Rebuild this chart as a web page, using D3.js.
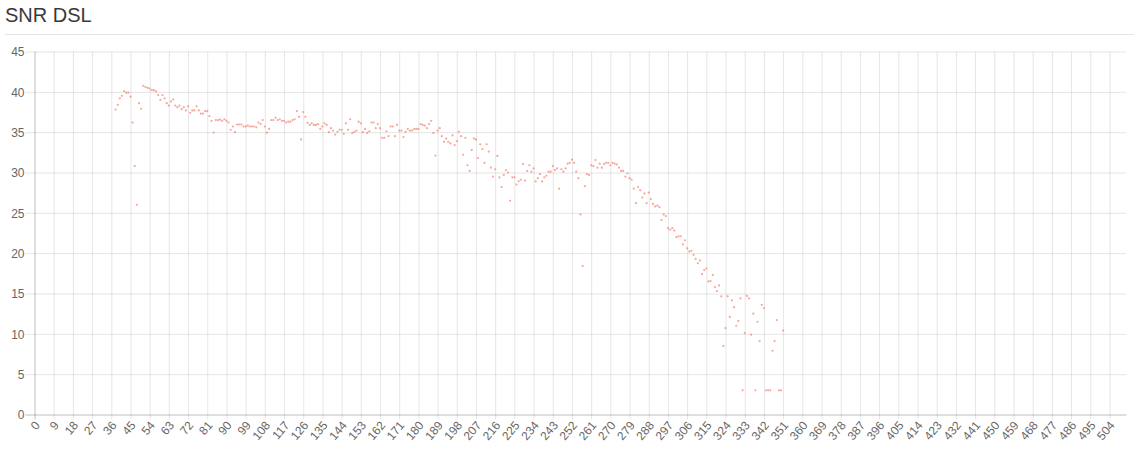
<!DOCTYPE html>
<html>
<head>
<meta charset="utf-8">
<script src="https://cdn.jsdelivr.net/npm/d3@7/dist/d3.min.js"></script>
<style>
  html, body { margin: 0; padding: 0; background: #fff; }
  svg { display: block; }
  text { font-family: "Liberation Sans", Arial, Helvetica, sans-serif; }
</style>
</head>
<body>
<svg id="chart" width="1136" height="454"></svg>
<script>
const chartTitle = "SNR DSL";
const sampleStart = 38;           // first sample index carrying a value
const xMax = 512;                 // last category on the x axis
const xTickLabels = [0,9,18,27,36,45,54,63,72,81,90,99,108,117,126,135,144,153,162,171,180,189,198,207,216,225,234,243,252,261,270,279,288,297,306,315,324,333,342,351,360,369,378,387,396,405,414,423,432,441,450,459,468,477,486,495,504];
const yTickLabels = [0,5,10,15,20,25,30,35,40,45];
const snrValues = [
  37.8, 38.4, 39.2, 39.5, 40.1, 39.9, 39.9, 39.4, 36.2, 30.8,
  26.0, 38.6, 37.9, 40.75, 40.6, 40.5, 40.4, 40.2, 40.2, 40.05,
  39.6, 39.0, 39.6, 39.2, 38.6, 38.3, 38.8, 39.05, 38.3, 38.1,
  38.3, 37.85, 38.1, 37.7, 38.2, 37.4, 37.7, 37.7, 38.2, 37.7,
  37.3, 37.3, 37.6, 37.6, 37.0, 36.4, 34.95, 36.5, 36.5, 36.55,
  36.4, 36.6, 36.4, 36.2, 35.3, 35.7, 35.0, 35.95, 35.95, 35.95,
  35.7, 35.7, 35.8, 35.7, 35.7, 35.7, 35.6, 36.2, 36.0, 36.5,
  35.7, 34.95, 35.4, 36.5, 36.5, 36.8, 36.5, 36.6, 36.4, 36.4,
  36.2, 36.3, 36.3, 36.5, 36.6, 37.6, 36.9, 34.1, 37.5, 36.9,
  36.16, 35.9, 36.1, 35.9, 35.9, 36.0, 35.4, 35.7, 36.1, 35.9,
  35.0, 35.5, 35.2, 34.7, 35.04, 35.3, 35.3, 34.8, 36.1, 35.3,
  36.6, 34.9, 35.04, 35.2, 36.3, 36.1, 35.0, 35.4, 34.9, 35.1,
  36.2, 36.2, 35.5, 36.0, 35.5, 34.3, 34.3, 35.1, 34.5, 35.7,
  35.7, 34.5, 35.9, 35.2, 35.2, 34.4, 35.04, 35.4, 35.2, 35.2,
  35.4, 35.4, 35.4, 36.0, 35.9, 35.8, 35.5, 36.0, 36.4, 34.9,
  32.1, 35.2, 35.5, 34.5, 33.8, 34.2, 33.8, 33.6, 34.6, 33.4,
  33.9, 35.04, 34.5, 32.2, 34.3, 30.9, 30.2, 32.8, 34.2, 34.1,
  31.8, 33.5, 32.9, 31.2, 33.5, 32.6, 30.6, 29.5, 30.4, 32.05,
  29.4, 28.2, 29.7, 30.3, 30.0, 26.5, 29.4, 29.4, 28.5, 28.9,
  29.1, 31.05, 29.0, 30.2, 30.9, 30.1, 30.5, 28.9, 29.3, 29.8,
  28.9, 29.4, 29.6, 30.1, 30.1, 30.8, 30.3, 30.5, 28.0, 30.4,
  30.1, 30.5, 31.1, 31.2, 31.6, 31.2, 30.1, 29.3, 24.8, 18.4,
  28.3, 29.8, 29.7, 30.9, 30.8, 31.55, 30.6, 31.1, 30.6, 31.05,
  31.2, 31.2, 30.9, 31.2, 31.1, 31.0, 30.6, 30.2, 30.2, 29.5,
  29.9, 29.3, 29.1, 28.0, 26.2, 28.2, 27.8, 26.9, 27.4, 26.2,
  27.5, 26.7, 26.1, 25.8, 25.9, 25.7, 24.1, 24.8, 24.6, 23.1,
  22.9, 23.1, 22.8, 22.0, 22.1, 22.1, 21.1, 21.6, 20.6, 20.2,
  20.3, 19.8, 19.3, 18.75, 19.1, 17.4, 17.9, 18.1, 16.5, 16.55,
  17.3, 15.8, 15.3, 16.0, 14.65, 8.5, 10.7, 14.65, 12.1, 14.15,
  13.3, 11.0, 11.6, 14.4, 3.0, 10.1, 14.7, 14.4, 9.9, 12.5,
  3.0, 11.5, 9.1, 13.6, 13.2, 3.0, 3.0, 3.0, 7.9, 9.1,
  11.7, 3.0, 3.0, 10.4
];

const svg = d3.select("#chart");
const plotLeft = 34.5, plotRight = 1126.5, plotTop = 51.5, plotBottom = 414.5;

const x = d3.scaleLinear().domain([0, xMax]).range([plotLeft, plotRight]);
const y = d3.scaleLinear().domain([0, 45]).range([plotBottom, plotTop]);

// Title + separator
svg.append("text")
  .attr("x", 5).attr("y", 22)
  .attr("font-size", 20).attr("fill", "#3a3a3a")
  .text(chartTitle);
svg.append("line")
  .attr("x1", 5).attr("x2", 1134).attr("y1", 34.5).attr("y2", 34.5)
  .attr("stroke", "#e5e5e5");

// Vertical grid + x axis
const xAxis = d3.axisBottom(x)
  .tickValues(xTickLabels)
  .tickSize(-(plotBottom - plotTop))
  .tickFormat(d => d);
const gx = svg.append("g").attr("transform", `translate(0,${plotBottom})`).call(xAxis);
gx.select(".domain").remove();
gx.selectAll(".tick line")
  .attr("stroke", d => d === 0 ? "rgba(0,0,0,0.25)" : "rgba(0,0,0,0.1)")
  .attr("y2", -(plotBottom - plotTop)).attr("y1", 5);
gx.selectAll(".tick text")
  .attr("font-size", 12).attr("fill", "#666")
  .attr("text-anchor", "end")
  .attr("dy", null)
  .attr("dominant-baseline", "middle")
  .attr("transform", "translate(3,9) rotate(-50)")
  .attr("y", 0).attr("x", 0);

// Horizontal grid + y axis
const yAxis = d3.axisLeft(y)
  .tickValues(yTickLabels)
  .tickSize(-(plotRight - plotLeft))
  .tickFormat(d => d);
const gy = svg.append("g").attr("transform", `translate(${plotLeft},0)`).call(yAxis);
gy.select(".domain").remove();
gy.selectAll(".tick line")
  .attr("stroke", d => d === 0 ? "rgba(0,0,0,0.25)" : "rgba(0,0,0,0.1)")
  .attr("x1", -9).attr("x2", plotRight - plotLeft);
gy.selectAll(".tick text")
  .attr("font-size", 12).attr("fill", "#666")
  .attr("x", -10).attr("dy", "0.35em");

// Points
svg.append("g")
  .selectAll("circle")
  .data(snrValues)
  .join("circle")
  .attr("cx", (d, i) => x(sampleStart + i))
  .attr("cy", d => y(d))
  .attr("r", 1.1)
  .attr("fill", "rgba(240,120,100,0.65)");
</script>
</body>
</html>
